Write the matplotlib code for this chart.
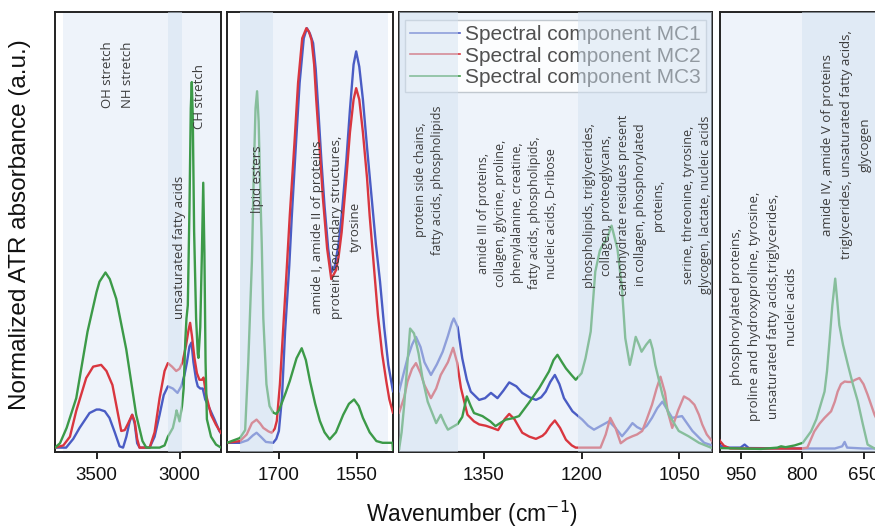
import numpy as np
import matplotlib
matplotlib.use("Agg")
import matplotlib.pyplot as plt

# ---------------- data ----------------
blue_wn = [3750, 3700, 3683, 3640, 3602, 3542, 3500, 3482, 3450, 3422, 3390, 3361, 3340, 3320, 3300,
           3285, 3270, 3255, 3240, 3180, 3150, 3120, 3095, 3070, 3040, 3012, 2990, 2970, 2955, 2940,
           2928, 2916, 2900, 2890, 2875, 2860, 2845, 2820, 2790, 2760, 2750,
           1800, 1775, 1760, 1750, 1743, 1735, 1725, 1711, 1705, 1700, 1694, 1688, 1680, 1675, 1667,
           1660, 1652, 1646, 1640, 1634, 1629, 1624, 1618, 1612, 1605, 1599, 1592, 1585, 1579, 1570,
           1563, 1556, 1551, 1545, 1538, 1530, 1521, 1513, 1505, 1497, 1489, 1481,
           1480, 1472, 1467, 1460, 1454, 1447, 1441, 1431, 1422, 1413, 1405, 1399, 1396, 1390, 1383,
           1376, 1370, 1357, 1348, 1339, 1329, 1320, 1311, 1300, 1291, 1280, 1270, 1262, 1255, 1248,
           1241, 1234, 1227, 1214, 1199, 1190, 1181, 1170, 1158, 1148, 1138, 1130, 1122, 1115, 1107,
           1100, 1092, 1084, 1076, 1068, 1061, 1053, 1046, 1038, 1030, 1020, 1012,
           1000, 980, 950, 940, 930, 800, 720, 702, 696, 690, 650, 600]
blue_abs = [0.005, 0.005, 0.005, 0.025, 0.05, 0.084, 0.092, 0.092, 0.088, 0.073, 0.04, 0.008, 0.005, 0.03, 0.065,
            0.08, 0.06, 0.015, 0.005, 0.005, 0.03, 0.08, 0.125, 0.145, 0.14, 0.13, 0.145, 0.171, 0.2, 0.236,
            0.245, 0.2, 0.16, 0.145, 0.14, 0.14, 0.115, 0.095, 0.07, 0.043, 0.038,
            0.016, 0.016, 0.022, 0.033, 0.039, 0.03, 0.018, 0.016, 0.025, 0.043, 0.12, 0.27, 0.42, 0.535, 0.7,
            0.838, 0.94, 0.963, 0.95, 0.929, 0.87, 0.777, 0.66, 0.557, 0.46, 0.405, 0.42, 0.47, 0.535, 0.66,
            0.777, 0.88, 0.91, 0.875, 0.8, 0.69, 0.573, 0.47, 0.384, 0.28, 0.194, 0.14,
            0.133, 0.18, 0.209, 0.24, 0.258, 0.235, 0.2, 0.171, 0.195, 0.224, 0.26, 0.29, 0.3, 0.28, 0.209,
            0.16, 0.133, 0.114, 0.118, 0.13, 0.118, 0.135, 0.154, 0.145, 0.13, 0.12, 0.114, 0.12, 0.133, 0.155,
            0.171, 0.15, 0.118, 0.088, 0.069, 0.055, 0.046, 0.055, 0.065, 0.05, 0.031, 0.045, 0.061, 0.052, 0.046,
            0.055, 0.073, 0.095, 0.11, 0.09, 0.073, 0.075, 0.077, 0.06, 0.043, 0.028, 0.016,
            0.01, 0.005, 0.005, 0.012, 0.004, 0.003, 0.003, 0.008, 0.018, 0.005, 0.003, 0.003]

red_wn = [3750, 3700, 3660, 3622, 3562, 3520, 3472, 3440, 3404, 3375, 3351, 3330, 3310, 3285, 3270,
          3255, 3241, 3180, 3150, 3120, 3090, 3070, 3045, 3020, 3000, 2982, 2960, 2945, 2936, 2925,
          2910, 2895, 2880, 2865, 2855, 2840, 2810, 2780, 2750,
          1800, 1775, 1762, 1752, 1743, 1736, 1730, 1720, 1714, 1708, 1704, 1698, 1692, 1685, 1679,
          1670, 1663, 1655, 1647, 1642, 1637, 1632, 1628, 1621, 1615, 1607, 1599, 1590, 1585, 1579,
          1570, 1563, 1556, 1551, 1545, 1538, 1530, 1525, 1517, 1509, 1501, 1493, 1487, 1481,
          1480, 1472, 1467, 1460, 1454, 1447, 1441, 1431, 1423, 1416, 1405, 1397, 1391, 1385, 1375,
          1365, 1357, 1347, 1337, 1328, 1318, 1311, 1303, 1291, 1280, 1270, 1260, 1255, 1248, 1241,
          1233, 1224, 1215, 1209, 1171, 1163, 1156, 1148, 1140, 1131, 1122, 1115, 1107, 1100, 1092,
          1085, 1079, 1072, 1068, 1061, 1052, 1043, 1035, 1027, 1020, 1015, 1008,
          1000, 990, 975, 800, 787, 770, 757, 745, 729, 720, 713, 705, 696, 688, 680, 670, 660, 650,
          640, 623, 610, 600]
red_abs = [0.005, 0.01, 0.03, 0.089, 0.164, 0.19, 0.194, 0.18, 0.148, 0.09, 0.043, 0.045, 0.06, 0.08, 0.065,
           0.025, 0.005, 0.005, 0.04, 0.118, 0.18, 0.198, 0.19, 0.18, 0.185, 0.2, 0.24, 0.275, 0.29, 0.26,
           0.21, 0.175, 0.16, 0.16, 0.165, 0.126, 0.08, 0.057, 0.038,
           0.016, 0.02, 0.035, 0.061, 0.069, 0.06, 0.05, 0.042, 0.039, 0.048, 0.066, 0.15, 0.27, 0.41, 0.535,
           0.7, 0.838, 0.94, 0.963, 0.955, 0.936, 0.88, 0.8, 0.68, 0.573, 0.46, 0.39, 0.41, 0.44, 0.497,
           0.62, 0.725, 0.8, 0.826, 0.8, 0.725, 0.62, 0.535, 0.42, 0.307, 0.22, 0.157, 0.115, 0.088,
           0.084, 0.12, 0.156, 0.185, 0.198, 0.175, 0.148, 0.118, 0.14, 0.171, 0.2, 0.233, 0.2, 0.141, 0.08,
           0.065, 0.058, 0.055, 0.05, 0.045, 0.07, 0.082, 0.07, 0.039, 0.03, 0.025, 0.032, 0.039, 0.055, 0.067,
           0.05, 0.023, 0.01, 0.005, 0.005, 0.035, 0.073, 0.05, 0.015, 0.025, 0.031, 0.035, 0.043, 0.07, 0.103,
           0.14, 0.167, 0.13, 0.088, 0.05, 0.09, 0.122, 0.115, 0.103, 0.08, 0.058, 0.035,
           0.02, 0.009, 0.003, 0.003, 0.005, 0.042, 0.06, 0.073, 0.088, 0.11, 0.133, 0.15, 0.156, 0.155, 0.155,
           0.16, 0.164, 0.15, 0.126, 0.08, 0.055, 0.04]

green_wn = [3750, 3720, 3680, 3622, 3554, 3500, 3482, 3446, 3420, 3381, 3321, 3261, 3223, 3200, 3120,
            3090, 3070, 3040, 3025, 3018, 3010, 3000, 2985, 2975, 2965, 2958, 2950, 2940, 2932, 2926,
            2920, 2912, 2900, 2890, 2886, 2875, 2865, 2857, 2850, 2843, 2835, 2810, 2780, 2750,
            1800, 1775, 1765, 1759, 1752, 1748, 1745, 1742, 1739, 1736, 1733, 1730, 1724, 1718, 1711,
            1705, 1700, 1695, 1687, 1679, 1666, 1656, 1648, 1640, 1630, 1621, 1612, 1602, 1590, 1576,
            1565, 1555, 1546, 1538, 1525, 1512, 1500, 1481,
            1480, 1476, 1472, 1467, 1463, 1457, 1450, 1444, 1436, 1428, 1423, 1416, 1410, 1405, 1398,
            1390, 1383, 1376, 1370, 1365, 1352, 1340, 1332, 1324, 1316, 1306, 1296, 1281, 1265, 1250,
            1243, 1237, 1230, 1224, 1215, 1209, 1200, 1194, 1186, 1179, 1172, 1168, 1161, 1154, 1145,
            1138, 1133, 1126, 1122, 1117, 1112, 1108, 1101, 1095, 1091, 1087, 1076, 1066, 1051, 1036,
            1020, 1002,
            1000, 950, 900, 860, 851, 840, 818, 798, 778, 765, 757, 745, 739, 733, 726, 719, 714, 709,
            700, 688, 676, 664, 652, 640, 623, 600]
green_abs = [0.005, 0.015, 0.05, 0.118, 0.27, 0.36, 0.384, 0.405, 0.39, 0.345, 0.23, 0.08, 0.02, 0.005, 0.005,
             0.01, 0.03, 0.05, 0.075, 0.09, 0.08, 0.065, 0.1, 0.14, 0.25, 0.3, 0.33, 0.55, 0.78, 0.84,
             0.76, 0.5, 0.3, 0.22, 0.21, 0.28, 0.45, 0.61, 0.45, 0.2, 0.07, 0.03, 0.012, 0.005,
             0.016, 0.027, 0.045, 0.2, 0.43, 0.65, 0.78, 0.819, 0.75, 0.6, 0.47, 0.3, 0.15, 0.1, 0.085,
             0.082, 0.09, 0.105, 0.13, 0.157, 0.209, 0.232, 0.205, 0.157, 0.105, 0.066, 0.04, 0.024, 0.04, 0.08,
             0.105, 0.115, 0.1, 0.073, 0.04, 0.02, 0.016, 0.016,
             0.0, 0.04, 0.103, 0.2, 0.277, 0.266, 0.22, 0.164, 0.11, 0.08, 0.061, 0.08, 0.06, 0.046, 0.052,
             0.059, 0.075, 0.122, 0.1, 0.084, 0.077, 0.065, 0.054, 0.062, 0.069, 0.072, 0.077, 0.107, 0.141, 0.179,
             0.205, 0.217, 0.2, 0.186, 0.17, 0.16, 0.175, 0.209, 0.27, 0.407, 0.455, 0.467, 0.482, 0.512, 0.459,
             0.368, 0.255, 0.194, 0.22, 0.258, 0.24, 0.224, 0.24, 0.251, 0.23, 0.194, 0.126, 0.08, 0.043, 0.031,
             0.016, 0.005,
             0.004, 0.003, 0.002, 0.005, 0.008, 0.006, 0.01, 0.016, 0.042, 0.07, 0.095, 0.133, 0.18, 0.247, 0.33,
             0.391, 0.34, 0.285, 0.24, 0.194, 0.15, 0.111, 0.06, 0.012, 0.003, 0.003]

series_labels = ["Spectral component MC1", "Spectral component MC2", "Spectral component MC3"]
panel_ranges = [(3750, 2750), (1800, 1480), (1480, 1000), (1000, 600)]
panel_ticks = [[3500, 3000], [1700, 1550], [1350, 1200, 1050], [950, 800, 650]]

# light shading (under curves) and darker shading (over curves)
light_bands = [(3700, 2750), (1775, 1490), (1480, 1000), (1000, 600)]
dark_bands = [(3070, 2985), (1775, 1712), (1480, 1390), (1205, 1000), (800, 600)]

# annotations: (panel, wavenumber, y fraction, text, fontsize, linespacing)
annotations = [
    (0, 3434, 0.857, "OH stretch", 9.5, 1.2),
    (0, 3313, 0.857, "NH stretch", 9.5, 1.2),
    (0, 3000, 0.466, "unsaturated fatty acids", 9.5, 1.2),
    (0, 2880, 0.807, "CH stretch", 9.5, 1.2),
    (1, 1742, 0.62, "lipid esters", 9.5, 1.2),
    (1, 1589, 0.511, "amide I, amide II of proteins\nprotein secondary structures,\ntyrosine", 9.5, 1.55),
    (2, 1434, 0.618, "protein side chains,\nfatty acids, phospholipids", 9.0, 1.4),
    (2, 1299, 0.543, "amide III of proteins,\ncollagen, glycine, proline,\nphenylalanine, creatine,\n"
                     "fatty acids, phospholipids,\nnucleic acids, D-ribose", 9.0, 1.4),
    (2, 1135, 0.561, "phospholipids, triglycerides,\ncollagen, proteoglycans,\ncarbohydrate residues present\n"
                     "in collagen, phosphorylated\nproteins,", 9.0, 1.4),
    (2, 1023, 0.561, "serine, threonine, tyrosine,\nglycogen, lactate, nucleic acids", 9.0, 1.4),
    (3, 893, 0.33, "phosphorylated proteins,\nproline and hydroxyproline, tyrosine,\n"
                   "unsaturated fatty acids,triglycerides,\nnucleic acids", 9.5, 1.55),
    (3, 692, 0.698, "amide IV, amide V of proteins\ntriglycerides, unsaturated fatty acids,\nglycogen", 9.5, 1.55),
]

colors = ["#4a5cc4", "#d9363f", "#3c9a48"]
light_col = "#eef3fa"
dark_col = "#d3e2f1"

# ---------------- figure ----------------
W, H = 875, 529
fig = plt.figure(figsize=(W / 100, H / 100), dpi=100)
plt.rcParams["font.family"] = ["Liberation Sans", "DejaVu Sans"]

ax_px = [(55, 166), (227, 166), (399, 313), (720, 164)]
top_px, bot_px = 12, 452
axes = []
for (x0, w), (lo, hi), ticks in zip(ax_px, panel_ranges, panel_ticks):
    ax = fig.add_axes([x0 / W, 1 - bot_px / H, w / W, (bot_px - top_px) / H])
    ax.set_xlim(lo, hi)
    ax.set_ylim(-0.005, 1.0)
    ax.set_xticks(ticks)
    ax.set_yticks([])
    ax.tick_params(axis="x", direction="out", length=5, width=1.3, labelsize=13.5, pad=6, colors="#111111")
    for s in ax.spines.values():
        s.set_linewidth(1.4)
        s.set_color("#222222")
    axes.append(ax)

for ax, (lo, hi) in zip(axes, panel_ranges):
    for a, b in light_bands:
        if min(a, b) < max(lo, hi) and max(a, b) > min(lo, hi):
            ax.axvspan(a, b, color=light_col, zorder=0, lw=0)
    for a, b in dark_bands:
        if min(a, b) < max(lo, hi) and max(a, b) > min(lo, hi):
            ax.axvspan(a, b, color=dark_col, alpha=0.5, zorder=6, lw=0)
    for wn, ab, c, lab in zip([blue_wn, red_wn, green_wn], [blue_abs, red_abs, green_abs], colors, series_labels):
        ax.plot(wn, ab, color=c, lw=1.7, zorder=3, label=lab)

for p, wn, yf, txt, fs, ls in annotations:
    ax = axes[p]
    ax.text(wn, yf, txt, rotation=90, ha="center", va="center", multialignment="center",
            transform=ax.get_xaxis_transform(), fontsize=fs, linespacing=ls, color="#3c3c3c",
            family=["Open Sans", "DejaVu Sans"], zorder=7)

leg = axes[2].legend(loc="upper left", bbox_to_anchor=(0.019, 0.982), borderaxespad=0, fontsize=15,
                     handlelength=2.4, handletextpad=0.25, labelspacing=0.12, borderpad=0.25,
                     fancybox=False, framealpha=0.85, edgecolor="#b8c0c8", facecolor="white")
for t in leg.get_texts():
    t.set_color("#505050")
for h in leg.get_lines():
    h.set_linewidth(1.2)
leg.set_zorder(5)

fig.text(20 / W, 1 - 225 / H, "Normalized ATR absorbance (a.u.)", rotation=90, ha="center", va="center",
         fontsize=17.5, color="#111111")
fig.text(472 / W, 1 - 514 / H, "Wavenumber (cm$^{-1}$)", ha="center", va="center", fontsize=16.4,
         color="#111111")

fig.savefig("out.png", dpi=100)
